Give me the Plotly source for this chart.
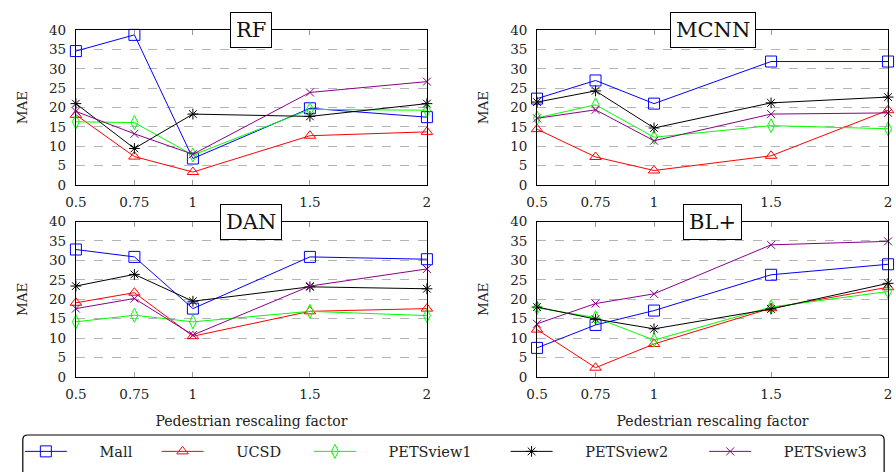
import plotly.graph_objects as go

x_factors = [0.5, 0.75, 1, 1.5, 2]
x_ticktext = ["0.5", "0.75", "1", "1.5", "2"]
y_ticks = [0, 5, 10, 15, 20, 25, 30, 35, 40]

series_names = ["Mall", "UCSD", "PETSview1", "PETSview2", "PETSview3"]
panel_titles = ["RF", "MCNN", "DAN", "BL+"]

# MAE values per panel, per series (order: Mall, UCSD, PETSview1, PETSview2, PETSview3)
rf_mall = [34.6, 38.8, 6.8, 19.8, 17.5]
rf_ucsd = [18.1, 7.3, 3.3, 12.7, 13.7]
rf_pets1 = [16.3, 16.1, 7.7, 19.5, 19.3]
rf_pets2 = [21.0, 9.4, 18.3, 17.7, 21.0]
rf_pets3 = [19.0, 13.2, 7.9, 23.9, 26.7]

mcnn_mall = [22.3, 27.0, 21.0, 31.9, 31.9]
mcnn_ucsd = [14.4, 7.2, 3.7, 7.5, 19.3]
mcnn_pets1 = [17.3, 20.7, 12.3, 15.3, 14.5]
mcnn_pets2 = [21.4, 24.3, 14.7, 21.2, 22.7]
mcnn_pets3 = [17.2, 19.4, 11.4, 18.3, 18.6]

dan_mall = [32.8, 30.9, 17.6, 30.9, 30.3]
dan_ucsd = [19.1, 21.7, 10.5, 16.9, 17.6]
dan_pets1 = [14.2, 15.9, 14.2, 16.9, 15.8]
dan_pets2 = [23.4, 26.4, 19.5, 23.2, 22.7]
dan_pets3 = [17.6, 20.2, 10.8, 23.4, 27.8]

bl_mall = [7.5, 13.4, 17.1, 26.3, 29.0]
bl_ucsd = [12.2, 2.4, 8.5, 17.7, 23.1]
bl_pets1 = [17.8, 15.3, 9.5, 18.0, 22.0]
bl_pets2 = [18.0, 14.9, 12.4, 17.5, 24.1]
bl_pets3 = [13.7, 18.9, 21.4, 34.0, 34.9]

panels = [
    [rf_mall, rf_ucsd, rf_pets1, rf_pets2, rf_pets3],
    [mcnn_mall, mcnn_ucsd, mcnn_pets1, mcnn_pets2, mcnn_pets3],
    [dan_mall, dan_ucsd, dan_pets1, dan_pets2, dan_pets3],
    [bl_mall, bl_ucsd, bl_pets1, bl_pets2, bl_pets3],
]

colors = ["#0000ff", "#ff0000", "#00ff00", "#000000", "#8a008a"]
symbols = ["square-open", "triangle-up-open", "diamond-tall-open", "asterisk-open", "x-thin-open"]
sizes = [11, 10, 10, 9, 8]

W, H = 896, 472
FONT = "DejaVu Serif"
TXT = "#222222"

def px(v):
    return v / W

def py(v):
    return 1 - v / H

x_domains = [(px(66), px(423)), (px(535), px(892)), (px(66), px(423)), (px(535), px(892))]
y_domains = [(py(183), py(23)), (py(183), py(23)), (py(382), py(221)), (py(382), py(221))]

legend_x = [9, 148, 303, 503, 705]
PAD = "\u00a0" * 6

fig = go.Figure()

for p in range(4):
    ax = "" if p == 0 else str(p + 1)
    for s in range(5):
        fig.add_trace(go.Scatter(
            x=x_factors, y=panels[p][s], name=PAD + series_names[s],
            mode="lines+markers",
            line=dict(color=colors[s], width=1),
            marker=dict(symbol=symbols[s], size=sizes[s], color=colors[s],
                        line=dict(color=colors[s], width=1)),
            xaxis="x" + ax, yaxis="y" + ax,
            cliponaxis=False,
            showlegend=(p == 0),
            legend="legend" if s == 0 else "legend" + str(s + 1),
        ))

layout = dict(
    width=W, height=H,
    margin=dict(l=0, r=0, t=0, b=0),
    paper_bgcolor="white", plot_bgcolor="white",
    font=dict(family=FONT, size=13, color=TXT),
    annotations=[], shapes=[],
)

for p in range(4):
    key = "" if p == 0 else str(p + 1)
    layout["xaxis" + key] = dict(
        domain=list(x_domains[p]), anchor="y" + key, range=[0.5, 2],
        tickvals=x_factors, ticktext=x_ticktext,
        ticks="inside", ticklen=5, tickcolor="#999999", tickwidth=1,
        showline=True, linecolor="black", linewidth=1, mirror="ticks",
        showgrid=False, zeroline=False, ticklabelstandoff=5,
        tickfont=dict(family=FONT, size=13.5, color=TXT),
        title=dict(text="Pedestrian rescaling factor" if p >= 2 else "",
                   font=dict(family=FONT, size=14, color=TXT), standoff=14),
    )
    layout["yaxis" + key] = dict(
        domain=list(y_domains[p]), anchor="x" + key, range=[0, 40],
        tickvals=y_ticks, ticks="", showline=True, linecolor="black", linewidth=1,
        mirror=True, showgrid=True, gridcolor="#b4b4b4", griddash="dash", gridwidth=1,
        zeroline=False, ticklabelstandoff=6,
        tickfont=dict(family=FONT, size=13.5, color=TXT),
        title=dict(text="MAE", font=dict(family=FONT, size=13.5, color=TXT), standoff=18),
    )
    layout["annotations"].append(dict(
        text=panel_titles[p], xref=("x" + key + " domain") if key else "x domain",
        yref=("y" + key + " domain") if key else "y domain",
        x=0.5, y=1, xanchor="center", yanchor="middle", showarrow=False,
        font=dict(family=FONT, size=21, color="#111111"),
        bgcolor="white", bordercolor="black", borderwidth=1, borderpad=5,
    ))

for s in range(5):
    key = "legend" if s == 0 else "legend" + str(s + 1)
    layout[key] = dict(
        x=px(legend_x[s]), y=py(459), xanchor="left", yanchor="middle",
        orientation="h", bgcolor="rgba(0,0,0,0)", borderwidth=0,
        itemwidth=42,
        font=dict(family=FONT, size=14.5, color=TXT),
    )

# rounded legend frame
x0, x1 = px(12), px(888)
y0, y1 = py(442), py(490)
rx, ry = 5 / W, 5 / H
path = (f"M {x0},{y1} L {x0},{y0 - ry} Q {x0},{y0} {x0 + rx},{y0} "
        f"L {x1 - rx},{y0} Q {x1},{y0} {x1},{y0 - ry} L {x1},{y1}")
layout["shapes"].append(dict(type="path", path=path, xref="paper", yref="paper",
                             line=dict(color="black", width=1.2)))

fig.update_layout(**layout)
fig.write_html("out.html")
